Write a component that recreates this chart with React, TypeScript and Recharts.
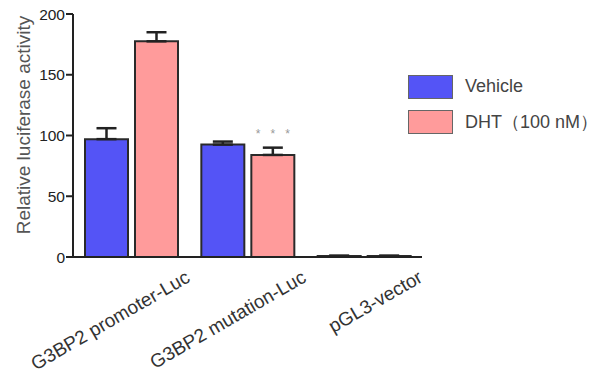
import React from 'react';
import { BarChart, Bar, XAxis, YAxis, ErrorBar, LabelList } from 'recharts';

const categories = ['G3BP2 promoter-Luc', 'G3BP2 mutation-Luc', 'pGL3-vector'];
const vehicle = [97, 92.5, 0.8];
const vehicleErr = [9, 2.5, 0.3];
const dht = [177.5, 84, 0.8];
const dhtErr = [7.5, 6, 0.3];
// non-breaking spaces keep the gaps between the stars
const significance = ['', '*\u00a0\u00a0\u00a0*\u00a0\u00a0\u00a0*', ''];
const yTicks = [0, 50, 100, 150, 200];
const legendItems = ['Vehicle', 'DHT（100 nM）'];

const BLUE = '#5454f6';
const PINK = '#ff9b9b';
const FONT = '"Liberation Sans", Arial, sans-serif';

const data = categories.map((name, i) => ({
  name,
  vehicle: vehicle[i],
  vehicleErr: [0, vehicleErr[i]],
  dht: dht[i],
  dhtErr: [0, dhtErr[i]],
  sig: significance[i],
}));

function XTick({ x, y, payload }: any) {
  return (
    <g transform={`translate(${x + 60},${y + 16})`}>
      <text textAnchor="end" transform="rotate(-30)" fill="#333" fontSize={19} fontFamily={FONT}>
        {payload.value}
      </text>
    </g>
  );
}

function YTitle() {
  return (
    <text
      x={23}
      y={125}
      transform="rotate(-90 23 125)"
      textAnchor="middle"
      dominantBaseline="central"
      fill="#555"
      fontSize={19}
      fontFamily={FONT}
    >
      Relative luciferase activity
    </text>
  );
}

function LegendBox() {
  const colors = [BLUE, PINK];
  return (
    <div style={{ position: 'absolute', left: 408, top: 69, fontFamily: FONT }}>
      {legendItems.map((label, i) => (
        <div key={label} style={{ display: 'flex', alignItems: 'center', height: 35 }}>
          <div style={{ width: 43, height: 22, background: colors[i], border: '1.5px solid #666' }} />
          <span style={{ marginLeft: 12, fontSize: 18, color: '#444', whiteSpace: 'nowrap' }}>{label}</span>
        </div>
      ))}
    </div>
  );
}

export default function App() {
  return (
    <div style={{ position: 'absolute', left: 0, top: 0, width: 604, height: 374, background: '#fff' }}>
      <BarChart
        width={604}
        height={374}
        data={data}
        margin={{ top: 14, right: 182, left: 13, bottom: 0 }}
        barSize={43}
        barGap={7}
      >
        <XAxis
          dataKey="name"
          height={117}
          tick={<XTick />}
          tickLine={false}
          axisLine={{ stroke: '#222', strokeWidth: 2 }}
          interval={0}
        />
        <YAxis
          width={60}
          domain={[0, 200]}
          ticks={yTicks}
          tickSize={7}
          tickMargin={1}
          axisLine={{ stroke: '#222', strokeWidth: 2 }}
          tickLine={{ stroke: '#222', strokeWidth: 2 }}
          tick={{ fill: '#222', fontSize: 15.5, fontFamily: FONT }}
          label={<YTitle />}
        />
        <Bar dataKey="vehicle" fill={BLUE} stroke="#2a2a2a" strokeWidth={2} isAnimationActive={false}>
          <ErrorBar dataKey="vehicleErr" direction="y" width={10} stroke="#222" strokeWidth={2.5} />
        </Bar>
        <Bar dataKey="dht" fill={PINK} stroke="#2a2a2a" strokeWidth={2} isAnimationActive={false}>
          <ErrorBar dataKey="dhtErr" direction="y" width={10} stroke="#222" strokeWidth={2.5} />
          <LabelList dataKey="sig" position="top" offset={17} fill="#999" fontSize={12} fontFamily={FONT} />
        </Bar>
      </BarChart>
      <LegendBox />
    </div>
  );
}
